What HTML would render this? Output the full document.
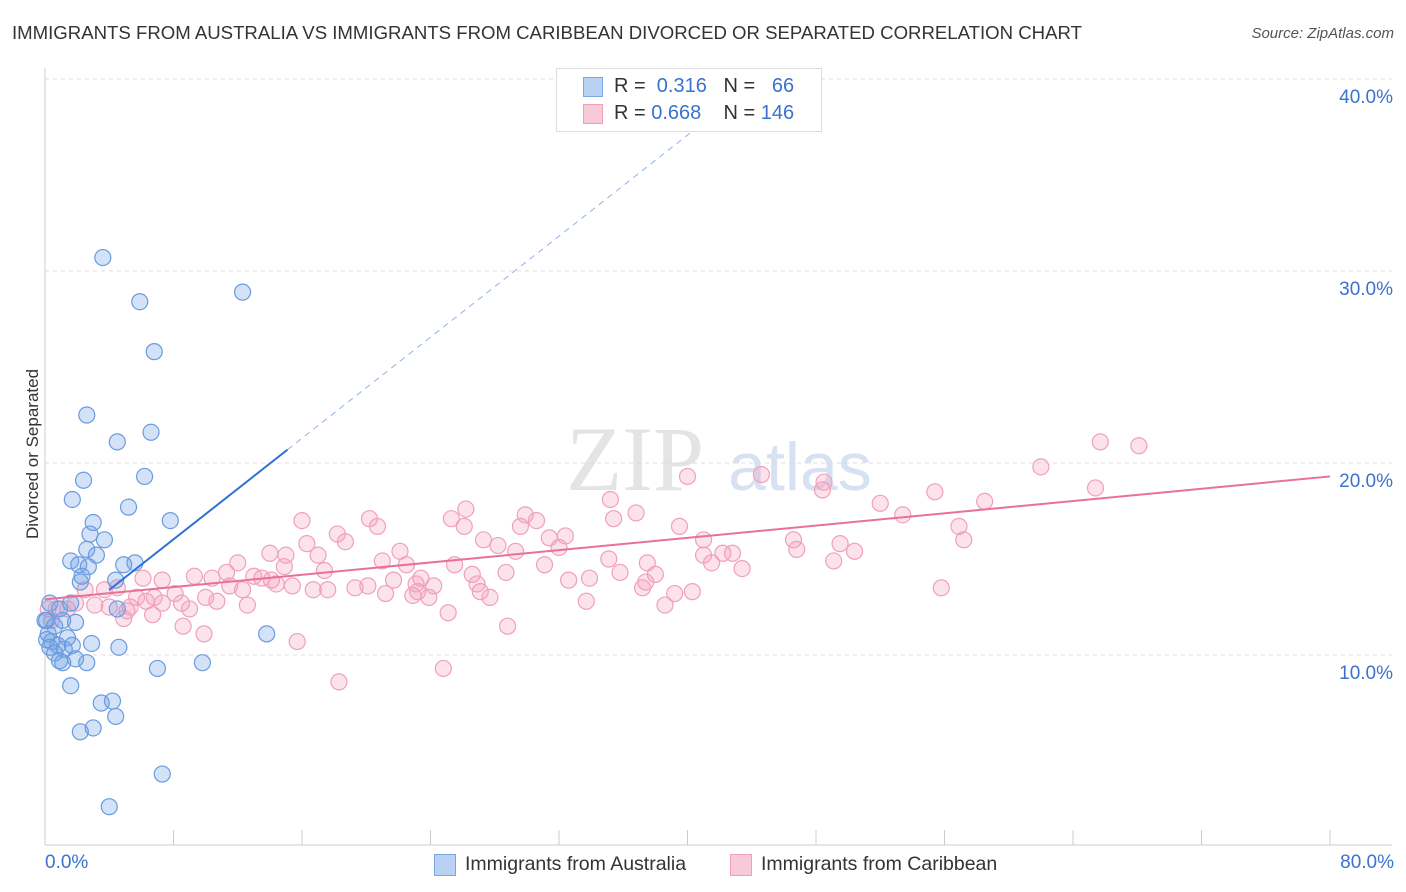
<!DOCTYPE html>
<html><head><meta charset="utf-8"><style>
body{margin:0;background:#fff;font-family:"Liberation Sans",sans-serif;}
#wrap{position:relative;width:1406px;height:892px;overflow:hidden;}
.t{position:absolute;white-space:nowrap;}
</style></head><body>
<div id="wrap">
<div class="t" style="left:12px;top:22px;font-size:18.6px;color:#333;">IMMIGRANTS FROM AUSTRALIA VS IMMIGRANTS FROM CARIBBEAN DIVORCED OR SEPARATED CORRELATION CHART</div>
<div class="t" style="right:12px;top:25px;font-size:15px;color:#555;font-style:italic;">Source: ZipAtlas.com</div>
<svg id="svg" width="1406" height="892" style="position:absolute;left:0;top:0">
<text x="635" y="490" font-family="Liberation Serif" font-size="92" fill="#e4e4e4" text-anchor="middle">ZIP</text>
<text x="800" y="490" font-family="Liberation Sans" font-size="68" fill="#d6e2f2" text-anchor="middle">atlas</text>
<g id="grid"></g><g id="pts"></g><g id="lines"></g>
</svg>
<div class="t" style="left:-52px;top:444px;transform:rotate(-90deg);font-size:17px;color:#333;">Divorced or Separated</div>
<div style="position:absolute;left:556px;top:68px;width:264px;height:62px;border:1px solid #ddd;background:#fff;font-size:20px;">
 <div style="position:absolute;left:26px;top:8px;width:18px;height:18px;background:#b9d2f3;border:1px solid #7aa6e4"></div>
 <div class="t" style="left:57px;top:6px;color:#333">R = <span style="color:#3a72d0">&nbsp;0.316</span>&nbsp;&nbsp;&nbsp;N = <span style="color:#3a72d0">&nbsp;&nbsp;66</span></div>
 <div style="position:absolute;left:26px;top:35px;width:18px;height:18px;background:#f8c9d7;border:1px solid #f0a0bb"></div>
 <div class="t" style="left:57px;top:33px;color:#333">R = <span style="color:#3a72d0">0.668</span>&nbsp;&nbsp;&nbsp;&nbsp;N = <span style="color:#3a72d0">146</span></div>
</div>
<div>
 <div style="position:absolute;left:434px;top:854px;width:20px;height:20px;background:#b9d2f3;border:1px solid #7aa6e4"></div>
 <div class="t" style="left:465px;top:853px;font-size:19.5px;color:#333">Immigrants from Australia</div>
 <div style="position:absolute;left:730px;top:854px;width:20px;height:20px;background:#f8c9d7;border:1px solid #f0a0bb"></div>
 <div class="t" style="left:761px;top:853px;font-size:19.5px;color:#333">Immigrants from Caribbean</div>
</div>
<div class="t" style="left:45px;top:852px;font-size:19px;color:#3a72d0">0.0%</div>
<div class="t" style="right:12px;top:852px;font-size:19px;color:#3a72d0">80.0%</div>
</div>
<script>
const yTicks=[10,20,30,40];
const blueX=[3.6,5.9,12.3,6.8,2.6,6.6,4.5,2.4,6.2,1.7,5.2,7.8,3.0,2.8,3.7,2.6,3.2,1.6,5.6,2.1,4.9,2.7,2.3,2.2,4.4,4.5,1.6,0.9,0.3,0.1,1.1,1.9,0.6,1.4,0.2,0.4,0.8,1.7,2.9,0.3,1.2,0.6,4.6,13.8,0.9,1.9,2.6,1.1,7.0,9.8,1.6,3.5,4.2,4.4,3.0,2.2,7.3,4.0,0,0.1];
const blueY=[30.7,28.4,28.9,25.8,22.5,21.6,21.1,19.1,19.3,18.1,17.7,17.0,16.9,16.3,16.0,15.5,15.2,14.9,14.8,14.7,14.7,14.6,14.1,13.8,13.9,12.4,12.7,12.4,12.7,11.8,11.8,11.7,11.5,10.9,11.1,10.7,10.5,10.5,10.6,10.4,10.3,10.1,10.4,11.1,9.7,9.8,9.6,9.6,9.3,9.6,8.4,7.5,7.6,6.8,6.2,6.0,3.8,2.1,11.8,10.8];
const pinkX=[65.7,68.1,62.0,65.4,44.6,40.0,48.5,48.4,55.4,58.5,52.0,35.2,36.8,26.2,29.9,25.3,30.6,35.4,53.4,20.2,20.7,16.0,39.5,56.9,26.1,29.6,18.2,27.3,31.4,32.4,41.0,46.6,57.2,16.3,18.7,28.2,32.0,49.5,50.4,46.8,29.3,22.1,14.0,15.0,17.0,21.0,35.1,41.0,42.2,42.8,41.5,12.0,22.5,25.5,31.1,37.5,49.1,43.4,35.8,14.9,17.4,11.3,9.3,10.4,13.0,13.5,23.4,26.6,28.7,38.0,21.7,23.1,24.2,26.9,32.6,33.9,37.4,6.1,7.3,11.5,14.1,14.4,15.4,20.1,37.2,55.8,27.1,23.2,39.2,40.3,12.3,16.7,17.6,19.3,21.2,22.9,23.9,27.7,2.5,3.7,4.5,5.7,6.8,8.1,10.0,6.3,7.3,8.5,10.7,12.6,1.9,3.1,4.0,5.3,5.1,9.0,0.7,1.4,33.7,38.6,25.1,4.9,6.7,8.6,9.9,28.8,15.7,24.8,18.3,0.2,0.4];
const pinkY=[21.1,20.9,19.8,18.7,19.4,19.3,19.0,18.6,18.5,18.0,17.9,18.1,17.4,17.6,17.3,17.1,17.0,17.1,17.3,17.1,16.7,17.0,16.7,16.7,16.7,16.7,16.3,16.0,16.1,16.2,16.0,16.0,16.0,15.8,15.9,15.7,15.6,15.8,15.4,15.5,15.4,15.4,15.3,15.2,15.2,14.9,15.0,15.2,15.3,15.3,14.8,14.8,14.7,14.7,14.7,14.8,14.9,14.5,14.3,14.6,14.4,14.3,14.1,14.0,14.1,14.0,14.0,14.2,14.3,14.2,13.9,13.7,13.6,13.7,13.9,14.0,13.8,14.0,13.9,13.6,13.9,13.7,13.6,13.6,13.5,13.5,13.3,13.3,13.2,13.3,13.4,13.4,13.4,13.5,13.2,13.1,13.0,13.0,13.4,13.4,13.5,13.0,13.0,13.2,13.0,12.8,12.7,12.7,12.8,12.6,12.7,12.6,12.5,12.5,12.3,12.4,12.4,12.4,12.8,12.6,12.2,11.9,12.1,11.5,11.1,11.5,10.7,9.3,8.6,12.4,11.8];
const blueFit=[10.76,0.658];
const pinkFit=[12.9,0.08];
const X=v=>45+v*1285/80, Y=v=>847-v*19.2;
const NS="http://www.w3.org/2000/svg";
function mk(tag,attrs,parent){const e=document.createElementNS(NS,tag);for(const k in attrs)e.setAttribute(k,attrs[k]);document.getElementById(parent).appendChild(e);return e;}
yTicks.forEach(t=>{
 const g=mk('line',{x1:45,x2:1392,y1:Y(t),y2:Y(t),stroke:'#ddd','stroke-dasharray':'4,4'},'grid');
 
 
 const tx=mk('text',{x:1393,y:Y(t)+24,'text-anchor':'end','font-size':19,fill:'#3a72d0','font-family':'Liberation Sans'},'grid');
 tx.textContent=t.toFixed(1)+'%';
 
 
});
const ax=mk('line',{x1:45,x2:1392,y1:845,y2:845,stroke:'#ccc'},'grid');


const ay=mk('line',{x1:45,x2:45,y1:68,y2:845,stroke:'#ccc'},'grid');


for(let i=0;i<=10;i++){
 const tk=mk('line',{x1:X(i*8),x2:X(i*8),y1:830,y2:845,stroke:'#ccc'},'grid');
 
 
}
pinkX.forEach((x,i)=>{
 const c=mk('circle',{cx:X(x),cy:Y(pinkY[i]),r:8,fill:'rgba(244,160,188,0.3)',stroke:'#f0a0bb','stroke-width':1.2},'pts');
 
 
});
blueX.forEach((x,i)=>{
 const c=mk('circle',{cx:X(x),cy:Y(blueY[i]),r:8,fill:'rgba(110,160,230,0.3)',stroke:'#6a9be0','stroke-width':1.2},'pts');
 
 
});
const bl=mk('line',{x1:X(4),y1:Y(blueFit[0]+blueFit[1]*4),x2:X(15.1),y2:Y(blueFit[0]+blueFit[1]*15.1),stroke:'#2f6fd6','stroke-width':2},'lines');


const bd=mk('line',{x1:X(15.1),y1:Y(blueFit[0]+blueFit[1]*15.1),x2:X(42.5),y2:Y(blueFit[0]+blueFit[1]*42.5),stroke:'#8fb3e8','stroke-width':1,'stroke-dasharray':'6,5'},'lines');


const pl=mk('line',{x1:X(0),y1:Y(pinkFit[0]),x2:X(80),y2:Y(pinkFit[0]+pinkFit[1]*80),stroke:'#e8709a','stroke-width':2},'lines');


</script>
</body></html>
